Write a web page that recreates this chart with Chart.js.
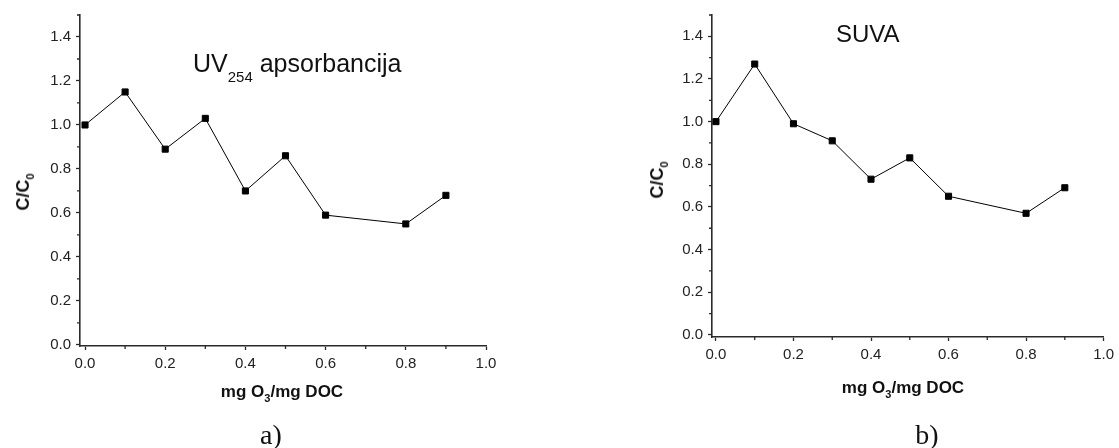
<!DOCTYPE html>
<html>
<head>
<meta charset="utf-8">
<script src="https://cdn.jsdelivr.net/npm/chart.js@4.4.1/dist/chart.umd.min.js"></script>
<style>
  html, body { margin: 0; padding: 0; background: #fff; }
  #wrap { position: relative; width: 1119px; height: 448px; overflow: hidden; background: #fff; }
  canvas { position: absolute; top: 0; }
  .t { position: absolute; white-space: nowrap; color: #111; font-family: "Liberation Sans", Arial, sans-serif; line-height: 1; }
  .b { font-weight: bold; }
  .rot { transform: translate(-50%, -50%) rotate(-90deg); }
  .hc { transform: translateX(-50%); }
  .serif { font-family: "Liberation Serif", "Times New Roman", serif; }
</style>
</head>
<body>
<div id="wrap">
  <canvas id="cA" width="560" height="448" style="left:0px;width:560px;height:448px"></canvas>
  <canvas id="cB" width="559" height="448" style="left:560px;width:559px;height:448px"></canvas>

  <div class="t" style="left:193px;top:51px;font-size:25px;">UV<span style="font-size:15px;vertical-align:-10px;">254</span> apsorbancija</div>
  <div class="t" style="left:836px;top:22px;font-size:24px;">SUVA</div>

  <div class="t b rot" style="left:25px;top:192px;font-size:18px;">C/C<span style="font-size:11px;vertical-align:-5px;">0</span></div>
  <div class="t b rot" style="left:659px;top:180px;font-size:18px;">C/C<span style="font-size:11px;vertical-align:-5px;">0</span></div>

  <div class="t b hc" style="left:282px;top:383px;font-size:17px;">mg O<span style="font-size:11px;vertical-align:-5px;">3</span>/mg DOC</div>
  <div class="t b hc" style="left:903px;top:379px;font-size:17px;">mg O<span style="font-size:11px;vertical-align:-5px;">3</span>/mg DOC</div>

  <div class="t serif hc" style="left:271px;top:421px;font-size:28px;">a)</div>
  <div class="t serif hc" style="left:927px;top:421px;font-size:28px;">b)</div>
</div>
<script>
// ---- data ----
const doseValues = [0.0, 0.1, 0.2, 0.3, 0.4, 0.5, 0.6, 0.8, 0.9];
const uvValues   = [1.00, 1.15, 0.89, 1.03, 0.70, 0.86, 0.59, 0.55, 0.68];
const suvaValues = [1.00, 1.27, 0.99, 0.91, 0.73, 0.83, 0.65, 0.57, 0.69];

const xTickValues = [0.0, 0.2, 0.4, 0.6, 0.8, 1.0];
const xTickLabels = ['0.0', '0.2', '0.4', '0.6', '0.8', '1.0'];
const xMinorTicks = [0.1, 0.3, 0.5, 0.7, 0.9];
const yTickValues = [0.0, 0.2, 0.4, 0.6, 0.8, 1.0, 1.2, 1.4];
const yTickLabels = ['0.0', '0.2', '0.4', '0.6', '0.8', '1.0', '1.2', '1.4'];
const yMinorTicks = [0.1, 0.3, 0.5, 0.7, 0.9, 1.1, 1.3, 1.5];

const AXIS = '#2a2a2a';

const minorTickPlugin = {
  id: 'minorTicks',
  afterDraw(chart) {
    const ctx = chart.ctx;
    const xs = chart.scales.x, ys = chart.scales.y;
    ctx.save();
    ctx.strokeStyle = AXIS;
    ctx.lineWidth = 1.3;
    ctx.beginPath();
    xMinorTicks.forEach(v => {
      const px = xs.getPixelForValue(v);
      ctx.moveTo(px, xs.top);
      ctx.lineTo(px, xs.top + 3);
    });
    yMinorTicks.forEach(v => {
      const py = ys.getPixelForValue(v);
      ctx.moveTo(ys.right, py);
      ctx.lineTo(ys.right - 3, py);
    });
    ctx.stroke();
    ctx.restore();
  }
};

function makeChart(id, values, opt) {
  const pts = doseValues.map((x, i) => ({ x: x, y: values[i] }));
  return new Chart(document.getElementById(id), {
    type: 'line',
    data: {
      datasets: [{
        data: pts,
        borderColor: '#000',
        borderWidth: 1,
        backgroundColor: '#000',
        pointStyle: 'rect',
        pointRadius: 4.3,
        pointBorderWidth: 1,
        pointBorderColor: '#000',
        pointBackgroundColor: '#000',
        tension: 0,
        fill: false
      }]
    },
    options: {
      responsive: false,
      animation: false,
      devicePixelRatio: 1,
      layout: { padding: { top: 15, right: opt.padRight, left: 0, bottom: 0 } },
      plugins: { legend: { display: false }, tooltip: { enabled: false }, title: { display: false } },
      scales: {
        x: {
          type: 'linear',
          min: opt.xMin,
          max: 1.0,
          afterBuildTicks: s => { s.ticks = xTickValues.map(v => ({ value: v })); },
          afterFit: s => { s.height = opt.xHeight; },
          ticks: {
            autoSkip: false,
            maxRotation: 0,
            padding: 5,
            color: '#222',
            font: { family: 'Liberation Sans', size: 15 },
            callback: (v) => { const i = xTickValues.indexOf(v); return i >= 0 ? xTickLabels[i] : ''; }
          },
          grid: { drawOnChartArea: false, drawTicks: true, tickLength: 4, tickColor: AXIS, tickWidth: 1.3 },
          border: { display: true, color: AXIS, width: 1.6 }
        },
        y: {
          type: 'linear',
          min: opt.yMin,
          max: 1.5,
          afterBuildTicks: s => { s.ticks = yTickValues.map(v => ({ value: v })); },
          afterFit: s => { s.width = opt.yWidth; },
          ticks: {
            autoSkip: false,
            padding: 5,
            color: '#222',
            font: { family: 'Liberation Sans', size: 15 },
            callback: (v) => { const i = yTickValues.indexOf(v); return i >= 0 ? yTickLabels[i] : ''; }
          },
          grid: { drawOnChartArea: false, drawTicks: true, tickLength: 4, tickColor: AXIS, tickWidth: 1.3 },
          border: { display: true, color: AXIS, width: 1.6 }
        }
      }
    },
    plugins: [minorTickPlugin]
  });
}

makeChart('cA', uvValues,   { xMin: -0.0125, yMin: -0.005, yWidth: 80,  xHeight: 102, padRight: 74 });
makeChart('cB', suvaValues, { xMin: -0.0102, yMin: -0.01,  yWidth: 152, xHeight: 111, padRight: 11 });
</script>
</body>
</html>
